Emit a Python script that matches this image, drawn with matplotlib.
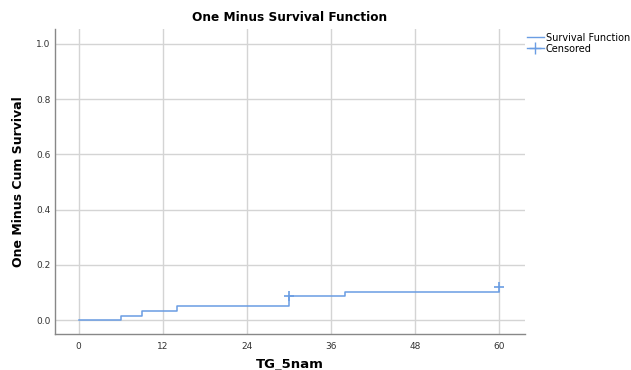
import matplotlib
matplotlib.use("Agg")
import matplotlib.pyplot as plt
from matplotlib.lines import Line2D

# ============ data ============
event_times = [0, 6, 9, 14, 30, 38, 60]
one_minus_surv = [0.0, 0.017, 0.035, 0.051, 0.087, 0.103, 0.103]
censor_times = [30, 60]
censor_vals = [0.087, 0.12]
x_ticks = [0, 12, 24, 36, 48, 60]
y_ticks = [0.0, 0.2, 0.4, 0.6, 0.8, 1.0]

line_color = "#6a9de3"

fig = plt.figure(figsize=(6.31, 3.7), dpi=100)
ax = fig.add_axes([0.087, 0.097, 0.745, 0.825])

ax.step(event_times, one_minus_surv, where="post", color=line_color, lw=1.1)
ax.plot(censor_times, censor_vals, ls="none", marker="+", ms=7, mew=1.2,
        color=line_color)

ax.set_xlim(-3.4, 63.7)
ax.set_ylim(-0.05, 1.054)
ax.set_xticks(x_ticks)
ax.set_yticks(y_ticks)
ax.set_yticklabels([f"{v:.1f}" for v in y_ticks])
ax.tick_params(axis="y", length=0, labelsize=6.5, colors="#333333", pad=3)
ax.tick_params(axis="x", length=0, labelsize=6.5, colors="#333333", pad=6)
ax.grid(True, color="#d4d4d4", lw=1)
ax.set_axisbelow(True)
for s in ["top", "right"]:
    ax.spines[s].set_visible(False)
for s in ["left", "bottom"]:
    ax.spines[s].set_color("#888888")
    ax.spines[s].set_linewidth(1)

ax.set_title("One Minus Survival Function", fontsize=8.7, fontweight="bold", pad=6)
ax.set_xlabel("TG_5nam", fontsize=9.5, fontweight="bold", labelpad=5)
ax.set_ylabel("One Minus Cum Survival", fontsize=9, fontweight="bold", labelpad=8)

handles = [Line2D([], [], color=line_color, lw=1),
           Line2D([], [], color=line_color, lw=1, marker="+", ms=8)]
ax.legend(handles, ["Survival Function", "Censored"], loc="upper left",
          bbox_to_anchor=(0.995, 1.0), frameon=False, fontsize=7,
          handlelength=1.8, handletextpad=0.2, borderaxespad=0, labelspacing=0.1)

fig.savefig("out.png", dpi=100)
